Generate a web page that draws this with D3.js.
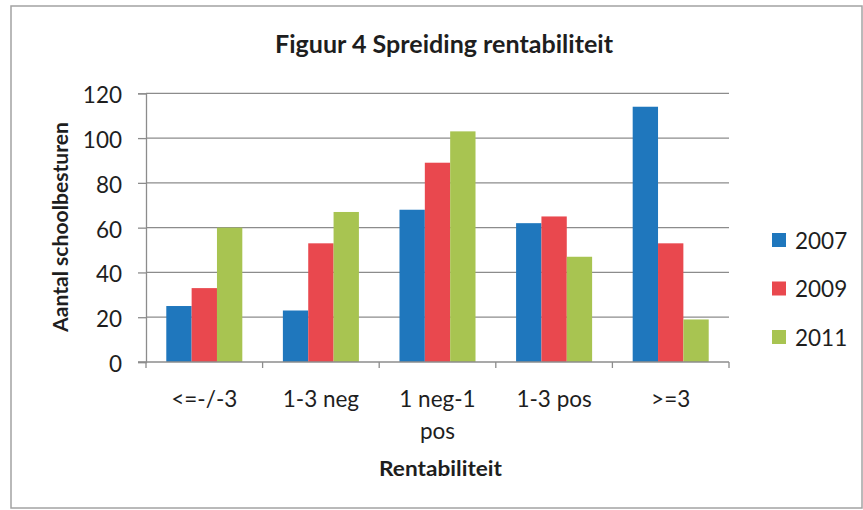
<!DOCTYPE html>
<html>
<head>
<meta charset="utf-8">
<script src="https://cdn.jsdelivr.net/npm/d3@7"></script>
<style>
  html, body { margin: 0; padding: 0; background: #fff; }
  svg { display: block; }
  text { font-family: Lato, "Open Sans", sans-serif; fill: #1e1e1e; }
</style>
</head>
<body>
<svg id="chart" width="863" height="510"></svg>
<script>
// ---- data ----
const categories = ["<=-/-3", "1-3 neg", "1 neg-1 pos", "1-3 pos", ">=3"];
const seriesNames = ["2007", "2009", "2011"];
const values2007 = [25, 23, 68, 62, 114];
const values2009 = [33, 53, 89, 65, 53];
const values2011 = [60, 67, 103, 47, 19];
const yTicks = [0, 20, 40, 60, 80, 100, 120];
const titleText = "Figuur 4 Spreiding rentabiliteit";
const xTitle = "Rentabiliteit";
const yTitle = "Aantal schoolbesturen";

const seriesValues = [values2007, values2009, values2011];
const colors = ["#1f77bd", "#e9484e", "#a8c451"];

const svg = d3.select("#chart");

// outer border
svg.append("rect")
  .attr("x", 11).attr("y", 6).attr("width", 851).attr("height", 502)
  .attr("fill", "none").attr("stroke", "#a3a3a3").attr("stroke-width", 1.5);

const plot = { left: 146, right: 729, top: 93.3, bottom: 362 };

const x0 = d3.scaleBand().domain(categories)
  .range([plot.left, plot.right]).paddingInner(0.348).paddingOuter(0.174);
const x1 = d3.scaleBand().domain(seriesNames).range([0, x0.bandwidth()]).padding(0);
const y = d3.scaleLinear().domain([0, 120]).range([plot.bottom, plot.top]);

// gridlines
svg.append("g").selectAll("line").data(yTicks.filter(d => d > 0)).join("line")
  .attr("x1", plot.left).attr("x2", plot.right)
  .attr("y1", d => y(d)).attr("y2", d => y(d))
  .attr("stroke", "#8c8c8c").attr("stroke-width", 1.3);

// bars
const table = categories.map((c, i) => ({ cat: c, vals: seriesNames.map((s, j) => ({ s, j, v: seriesValues[j][i] })) }));
svg.append("g").selectAll("g").data(table).join("g")
  .attr("transform", d => `translate(${x0(d.cat)},0)`)
  .selectAll("rect").data(d => d.vals).join("rect")
  .attr("x", d => x1(d.s))
  .attr("width", x1.bandwidth())
  .attr("y", d => y(d.v))
  .attr("height", d => y(0) - y(d.v))
  .attr("fill", d => colors[d.j]);

// y axis
const yAxis = d3.axisLeft(y).tickValues(yTicks).tickSize(8).tickPadding(16);
const gy = svg.append("g").attr("transform", `translate(${plot.left},0)`).call(yAxis);
gy.select(".domain").attr("stroke", "#8c8c8c").attr("stroke-width", 1.3);
gy.selectAll(".tick line").attr("stroke", "#8c8c8c").attr("stroke-width", 1.3);
gy.selectAll(".tick text").attr("font-size", "22.5px").attr("font-family", "Lato, sans-serif")
  .attr("fill", "#1e1e1e").attr("dy", "0.42em");

// x axis
const step = x0.step();
const boundaries = d3.range(categories.length + 1).map(i => plot.left + i * step);
const gx = svg.append("g");
gx.append("line").attr("x1", plot.left - 8).attr("x2", plot.right)
  .attr("y1", plot.bottom).attr("y2", plot.bottom)
  .attr("stroke", "#8c8c8c").attr("stroke-width", 1.3);
gx.selectAll(".tk").data(boundaries).join("line").attr("class", "tk")
  .attr("x1", d => d).attr("x2", d => d)
  .attr("y1", plot.bottom).attr("y2", plot.bottom + 6)
  .attr("stroke", "#8c8c8c").attr("stroke-width", 1.3);

const xLabels = gx.selectAll(".xl").data(categories).join("text").attr("class", "xl")
  .attr("text-anchor", "middle")
  .attr("font-size", "22.5px")
  .attr("x", d => x0(d) + x0.bandwidth() / 2)
  .attr("y", 407);

// wrap labels
xLabels.each(function(d) {
  const t = d3.select(this);
  const words = d.split(" ");
  const maxW = 100;
  let lines = [], cur = [];
  const tmp = t.append("tspan");
  words.forEach(w => {
    const test = cur.concat([w]).join(" ");
    tmp.text(test);
    if (tmp.node().getComputedTextLength() > maxW && cur.length) {
      lines.push(cur.join(" ")); cur = [w];
    } else cur.push(w);
  });
  lines.push(cur.join(" "));
  tmp.remove();
  const cx = t.attr("x");
  lines.forEach((ln, k) => {
    t.append("tspan").attr("x", cx).attr("dy", k === 0 ? 0 : 32).text(ln);
  });
});

// titles
function fitText(sel, target) {
  const w = sel.node().getComputedTextLength();
  if (w > 0) sel.attr("textLength", target).attr("lengthAdjust", "spacingAndGlyphs");
}
const tt = svg.append("text").attr("x", 444).attr("y", 53).attr("text-anchor", "middle")
  .attr("font-size", "24px").attr("font-weight", "bold").text(titleText);
fitText(tt, 338);

const xt = svg.append("text").attr("x", 440.5).attr("y", 476).attr("text-anchor", "middle")
  .attr("font-size", "20px").attr("font-weight", "bold").text(xTitle);
fitText(xt, 123);

const yt = svg.append("text").attr("transform", "translate(68,227) rotate(-90)")
  .attr("text-anchor", "middle").attr("font-size", "20px").attr("font-weight", "bold").text(yTitle);
fitText(yt, 210);

// legend
const lg = svg.append("g").selectAll("g").data(seriesNames).join("g")
  .attr("transform", (d, i) => `translate(772,${233 + i * 48.5})`);
lg.append("rect").attr("width", 14).attr("height", 14).attr("fill", (d, i) => colors[i]);
lg.append("text").attr("x", 23).attr("y", 15.5).attr("font-size", "22.5px").text(d => d);
</script>
</body>
</html>
